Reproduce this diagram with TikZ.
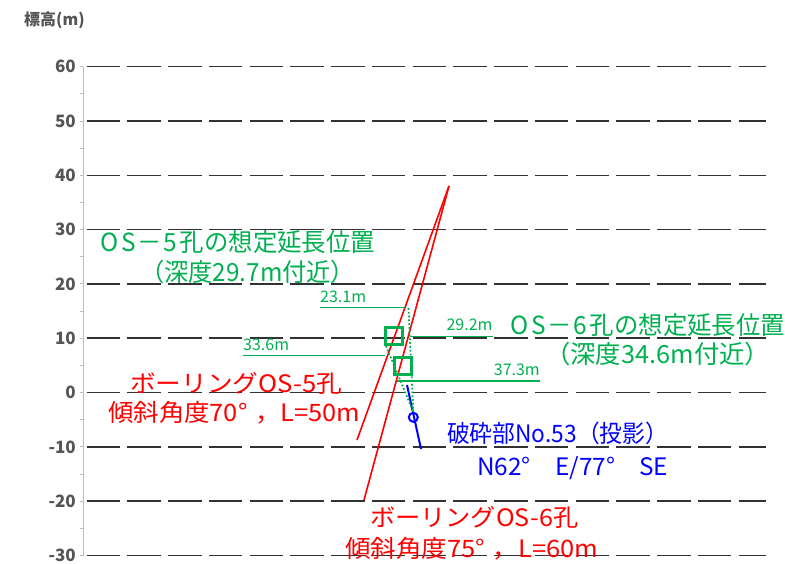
\documentclass[tikz,border=0pt]{standalone}
\usepackage{graphicx}
\usepackage{fontspec}
\setmainfont{Noto Sans CJK JP}
\definecolor{grn}{RGB}{0,176,80}
\definecolor{gridc}{RGB}{50,50,50}
\definecolor{axc}{RGB}{190,190,190}
\definecolor{tickl}{RGB}{85,85,85}
\newcommand{\fitw}[2]{\resizebox{#1}{\height}{#2}}
\newcommand{\osname}[1]{O\hspace{3pt}S\hspace{2pt}－\hspace{1pt}#1\hspace{3pt}}
\begin{document}
\begin{tikzpicture}[x=1pt,y=-1pt,
  gridline/.style={gridc,line width=1.6pt,dash pattern=on 33.5pt off 7.25pt},
  ticklab/.style={anchor=east,text=tickl,font=\fontsize{17}{17}\selectfont\bfseries,inner sep=0pt},
  gtxt/.style={anchor=west,inner sep=0pt,text=grn,font=\fontsize{25}{25}\selectfont},
  bigtxt/.style={anchor=west,inner sep=0pt,font=\fontsize{24}{24}\selectfont},
  dimtxt/.style={inner sep=0pt,text=grn,font=\fontsize{16}{16}\selectfont},
  dimline/.style={grn,line width=1.5pt},
  boreline/.style={red,line width=1.6pt},
  markbox/.style={draw=grn,line width=3pt,minimum size=17pt,inner sep=0pt},
  dotl/.style={grn,line width=1.8pt,dash pattern=on 1.8pt off 2pt},
]
\useasboundingbox (0,0) rectangle (785,563);
% axis label
\node[anchor=west,inner sep=0pt,text=tickl,font=\fontsize{16}{16}\selectfont\bfseries] (ylab) at (24,20) {標高(m)};
% axis
\draw[axc,line width=1pt] (83,66.7) -- (83,555.6);
\foreach \v in {60,50,...,-30}{
  \pgfmathsetmacro{\yy}{392.6-\v*5.432}
  \draw[gridline] (86.7,\yy) -- (766,\yy);
  \draw[axc,line width=1pt] (79.5,\yy) -- (83,\yy);
  \node[ticklab] at (76,\yy) {\v};
}
\foreach \v in {55,45,...,-25}{
  \pgfmathsetmacro{\yy}{392.6-\v*5.432}
  \draw[axc,line width=1pt] (80,\yy) -- (83,\yy);
}
% boreholes
\coordinate (top) at (449,186);
\coordinate (b5) at (357,440);
\coordinate (b6) at (364,500);
\draw[boreline] (top) -- (b5);
\draw[boreline] (top) -- (b6);
% green dimension lines
\coordinate (d1a) at (320,307.5); \coordinate (d1b) at (405,307.5);
\coordinate (d2a) at (243,355.5); \coordinate (d2b) at (385,355.5);
\coordinate (d3a) at (410,336.5); \coordinate (d3b) at (492.7,336.5);
\coordinate (d4a) at (397,381);   \coordinate (d4b) at (540,381);
\draw[dimline] (d1a) -- (d1b);
\draw[dimline] (d2a) -- (d2b);
\draw[dimline] (d3a) -- (d3b);
\draw[dimline] (d4a) -- (d4b);
\node[dimtxt,anchor=south west] (l1) at ([yshift=5pt]d1a) {23.1m};
\node[dimtxt,anchor=south west] (l2) at ([yshift=5pt]d2a) {33.6m};
\node[dimtxt,anchor=south east] (l3) at ([yshift=5.5pt]d3b) {29.2m};
\node[dimtxt,anchor=south east] (l4) at ([yshift=5.3pt]d4b) {37.3m};
% fault
\node[draw=blue,circle,line width=2pt,minimum size=9pt,inner sep=0pt] (fc) at (413.3,417.3) {};
\coordinate (fa) at (407,385);
\coordinate (fb) at (421,449);
\draw[blue,line width=2pt] (fa) -- (fb);
% dotted projections
\coordinate (p1) at (408.5,308);
\coordinate (p2) at (386,346);
\draw[dotl] (p1) -- (fc.north);
\draw[dotl] (p2) -- (fc.north);
% markers
\node[markbox] (m5) at (394,335.5) {};
\node[markbox] (m6) at (403,366) {};
% texts
\node[gtxt] (t1) at (100,242) {\fitw{275pt}{\osname{5}孔の想定延長位置}};
\node[gtxt] (t2) at (140,272) {\fitw{215pt}{（深度29.7m付近）}};
\node[gtxt] (t3) at (510,325) {\fitw{275pt}{\osname{6}孔の想定延長位置}};
\node[gtxt] (t4) at (545,354) {\fitw{225pt}{（深度34.6m付近）}};
\node[bigtxt,text=red] (t5) at (130,383) {\fitw{212pt}{ボーリングOS-5孔}};
\node[bigtxt,text=red] (t6) at (108,413) {\fitw{252pt}{傾斜角度70°\hspace{0.3em}，L=50m}};
\node[bigtxt,text=blue] (t7) at (447,433) {\fitw{221pt}{破砕部No.53（投影）}};
\node[bigtxt,text=blue] (t8) at (477,468) {\fitw{191pt}{N62°　E/77°　SE}};
\node[bigtxt,text=red] (t9) at (370,517) {\fitw{208pt}{ボーリングOS-6孔}};
\node[bigtxt,text=red] (t10) at (345,549) {\fitw{253pt}{傾斜角度75°\hspace{0.3em}，L=60m}};
\end{tikzpicture}
\end{document}
